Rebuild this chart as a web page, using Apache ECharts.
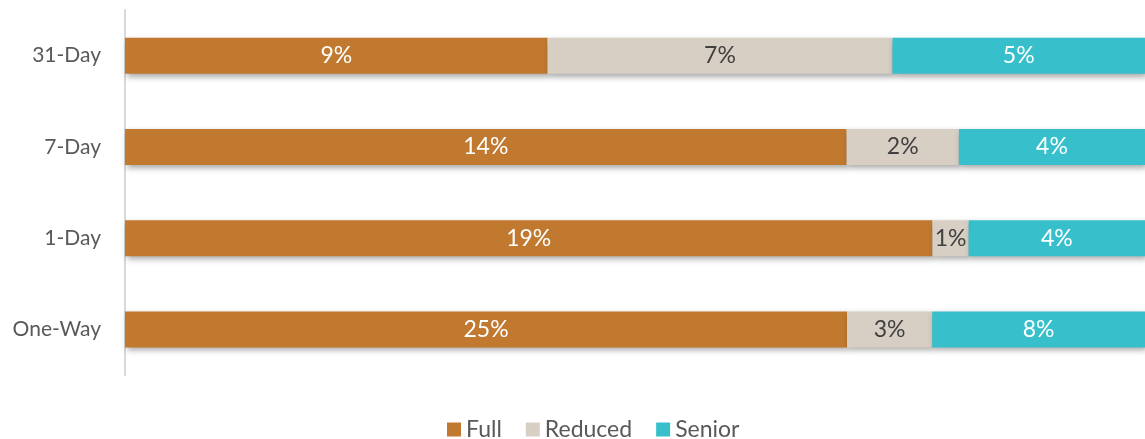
<!DOCTYPE html>
<html><head><meta charset="utf-8">
<script src="https://cdn.jsdelivr.net/npm/echarts@6/dist/echarts.min.js"></script>
<style>html,body{margin:0;padding:0;background:#fff}#c{width:1145px;height:439px}</style>
</head><body><div id="c"></div>
<script>
const categories = ['31-Day', '7-Day', '1-Day', 'One-Way'];
const seriesNames = ['Full', 'Reduced', 'Senior'];
const fullValues = [8.7, 14.15, 19.0, 25.45];
const reducedValues = [7.1, 2.2, 0.85, 3.0];
const seniorValues = [5.2, 3.65, 4.15, 7.5];
const colors = ['#C0792F', '#D8CFC4', '#37C0CB'];
const labelColors = ['#ffffff', '#404040', '#ffffff'];

const raw = [fullValues, reducedValues, seniorValues];
const totals = categories.map((_, i) => raw.reduce((s, arr) => s + arr[i], 0));
const FONT = 'Source Sans Pro, Lato, sans-serif';

const chart = echarts.init(document.getElementById('c'), null, {renderer: 'canvas'});
chart.setOption({
  animation: false,
  textStyle: {fontFamily: FONT},
  legend: {
    top: 413, left: 442, itemWidth: 14, itemHeight: 14, itemGap: 24,
    icon: 'rect',
    textStyle: {fontSize: 23, color: '#595959', fontFamily: FONT},
    data: seriesNames
  },
  grid: {left: 125, right: 0, top: 10, bottom: 64, containLabel: false},
  xAxis: {type: 'value', min: 0, max: 100, show: false},
  yAxis: {
    type: 'category', data: categories, inverse: true,
    axisLine: {show: true, lineStyle: {color: '#d9d9d9', width: 2}},
    axisTick: {show: false},
    axisLabel: {fontSize: 21, color: '#595959', margin: 24, fontFamily: FONT}
  },
  series: seriesNames.map((name, k) => ({
    name, type: 'bar', stack: 'total', barWidth: 36,
    itemStyle: {color: colors[k], shadowColor: 'rgba(0,0,0,0.35)', shadowBlur: 6, shadowOffsetX: 2, shadowOffsetY: 3},
    label: {
      show: true, position: 'inside', color: labelColors[k], fontSize: 23, fontFamily: FONT,
      formatter: p => Math.round(raw[k][p.dataIndex]) + '%'
    },
    data: raw[k].map((v, i) => v / totals[i] * 100)
  }))
});
</script></body></html>
